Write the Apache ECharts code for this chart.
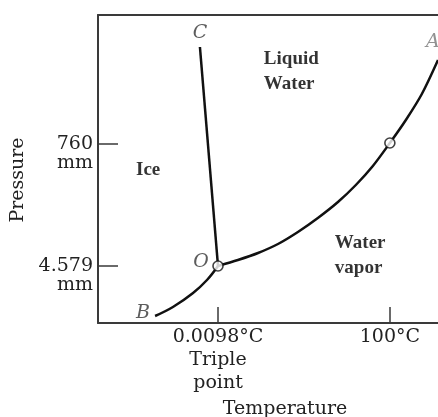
<!DOCTYPE html>
<html>
<head>
<meta charset="utf-8">
<script src="https://cdn.jsdelivr.net/npm/echarts@6/dist/echarts.min.js"></script>
<style>
html,body{margin:0;padding:0;background:#fff;}
#chart{width:438px;height:417px;}
</style>
</head>
<body>
<div id="chart"></div>
<script>
// Schematic phase diagram of water (x: temperature in °C, y: schematic pressure level)
const xTickValues = [0.0098, 100];
const xTickLabels = ['0.0098°C\nTriple\npoint', '100°C'];
const yTickValues = [57, 179];
const yTickLabels = ['\n4.579\nmm', '\n760\nmm'];

// Fusion curve O -> C
const fusionX = [0.0098, -10.5];
const fusionY = [57, 276];
// Sublimation curve B -> O
const sublimX = [-36.6, -26.2, -14.5, -6.4, 0.0098];
const sublimY = [7, 16, 30, 43, 57];
// Vaporization curve O -> A
const vaporX = [0.0098, 11.6, 23.3, 34.9, 46.5, 58.1, 69.8, 80.2, 90.1, 100, 109.3, 118.6, 128];
const vaporY = [57, 63, 70, 79, 91, 105, 121, 138, 157, 180, 203, 229, 263];
// Marked points (triple point, boiling point)
const markX = [0.0098, 100];
const markY = [57, 180];
// Curve end letters
const letterNames = ['A', 'B', 'C', 'O'];
const letterX = [125, -43.6, -10.5, -9.9];
const letterY = [281, 10, 290, 61];
// Region labels
const regionNames = ['Ice', 'Liquid\nWater', 'Water\nvapor'];
const regionX = [-47.7, 26.7, 68.0];
const regionY = [153, 251, 67];

const xMin = -69.8, xMax = 128, yMin = 0, yMax = 308;

const zip = (xs, ys) => xs.map((x, i) => [x, ys[i]]);
const serif = 'DejaVu Serif';
const textColor = '#222';

const chart = echarts.init(document.getElementById('chart'), null, {renderer: 'canvas'});
chart.setOption({
  animation: false,
  backgroundColor: '#fff',
  grid: {left: 98, top: 15, right: 0, bottom: 94, containLabel: false, outerBoundsMode: 'none'},
  xAxis: [{
    type: 'value', min: xMin, max: xMax, position: 'bottom',
    axisLine: {show: true, onZero: false, lineStyle: {color: '#3a3a3a', width: 2}},
    axisTick: {show: true, inside: true, length: 16, customValues: xTickValues, lineStyle: {color: '#3a3a3a', width: 1.5}},
    axisLabel: {
      show: true, customValues: xTickValues, margin: 3,
      fontFamily: serif, fontSize: 19, color: textColor, lineHeight: 23,
      formatter: v => xTickLabels[xTickValues.indexOf(v)] || ''
    },
    splitLine: {show: false},
    name: 'Temperature', nameLocation: 'middle', nameGap: 76,
    nameTextStyle: {fontFamily: serif, fontSize: 19, color: textColor, padding: [0, 0, 0, 34]}
  }, {
    type: 'value', min: xMin, max: xMax, position: 'top',
    axisLine: {show: true, onZero: false, lineStyle: {color: '#3a3a3a', width: 2}},
    axisTick: {show: false}, axisLabel: {show: false}, splitLine: {show: false}
  }],
  yAxis: {
    type: 'value', min: yMin, max: yMax, position: 'left',
    axisLine: {show: true, onZero: false, lineStyle: {color: '#3a3a3a', width: 2}},
    axisTick: {show: true, inside: true, length: 20, customValues: yTickValues, lineStyle: {color: '#3a3a3a', width: 1.5}},
    axisLabel: {
      show: true, customValues: yTickValues, margin: 5,
      fontFamily: serif, fontSize: 19, color: textColor, lineHeight: 19,
      align: 'right',
      formatter: v => yTickLabels[yTickValues.indexOf(v)] || ''
    },
    splitLine: {show: false},
    name: 'Pressure', nameLocation: 'middle', nameGap: 56,
    nameTextStyle: {fontFamily: serif, fontSize: 19, color: textColor, padding: [0, 22, 0, 0]}
  },
  series: [
    {type: 'line', data: zip(fusionX, fusionY), showSymbol: false, symbol: 'none',
     lineStyle: {color: '#111', width: 2.5}, z: 2},
    {type: 'line', data: zip(sublimX, sublimY), showSymbol: false, symbol: 'none', smooth: 0.4,
     lineStyle: {color: '#111', width: 2.5}, z: 2},
    {type: 'line', data: zip(vaporX, vaporY), showSymbol: false, symbol: 'none', smooth: 0.3,
     lineStyle: {color: '#111', width: 2.5}, z: 2},
    {type: 'scatter', data: zip(markX, markY), symbol: 'circle', symbolSize: 10,
     itemStyle: {color: '#fff', borderColor: '#111', borderWidth: 1.6}, z: 5},
    {type: 'scatter', symbolSize: 0, z: 6,
     data: letterNames.map((n, i) => ({value: [letterX[i], letterY[i]], name: n,
       label: n === 'A' ? {color: '#777'} : {}})),
     label: {show: true, position: 'inside', formatter: p => p.name,
       fontFamily: serif, fontStyle: 'italic', fontSize: 19, color: '#333'}},
    {type: 'scatter', symbolSize: 0, z: 6,
     data: regionNames.map((n, i) => ({value: [regionX[i], regionY[i]], name: n})),
     label: {show: true, position: 'right', distance: 0, formatter: p => p.name,
       fontFamily: 'Liberation Serif', fontWeight: 'bold', fontSize: 19, lineHeight: 25, color: '#000', align: 'left'}}
  ]
});
</script>
</body>
</html>
